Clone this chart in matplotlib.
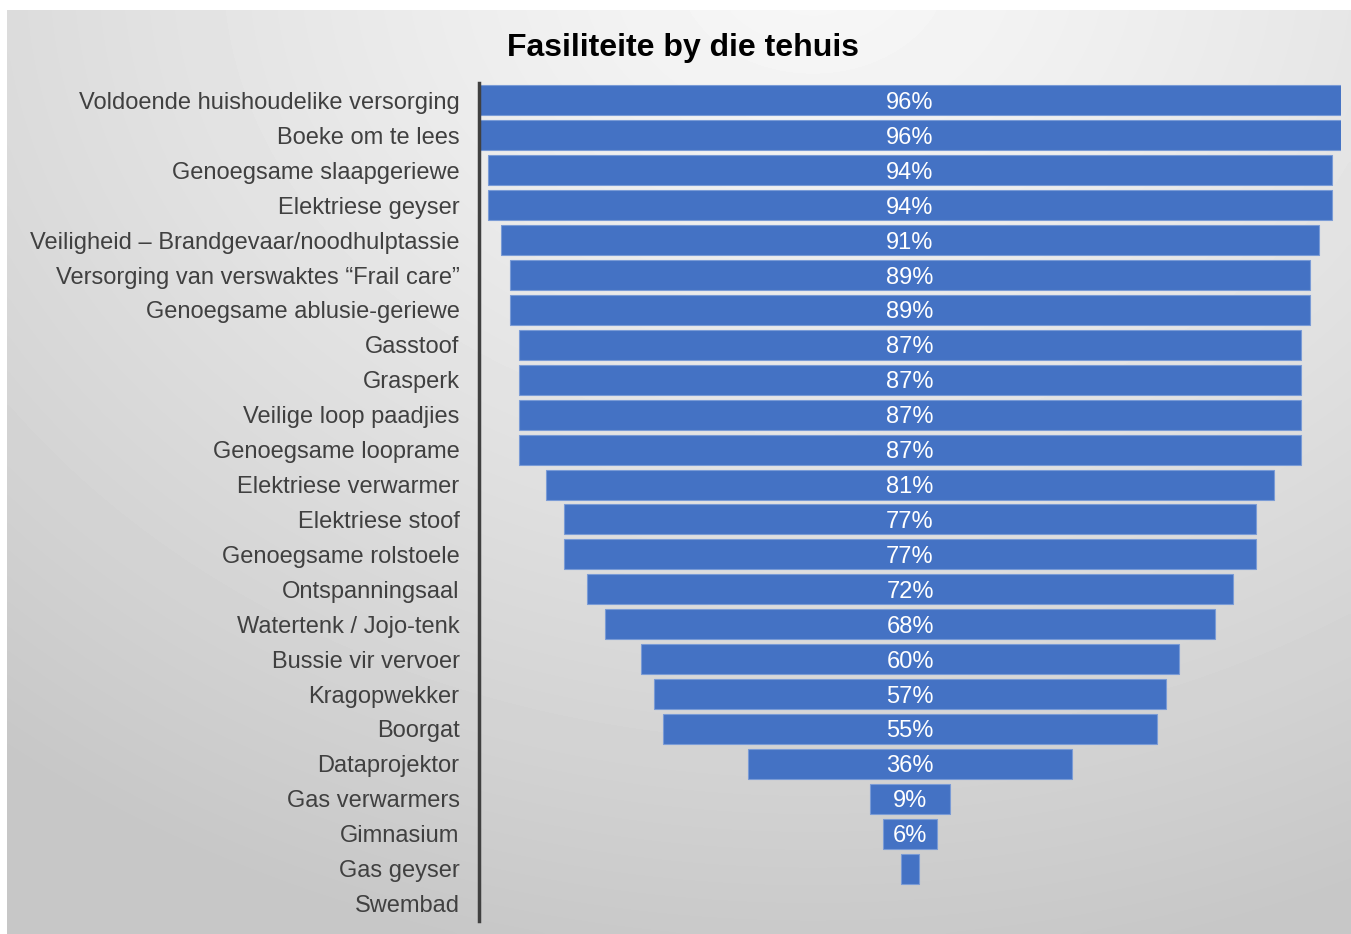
import numpy as np
import matplotlib.pyplot as plt

# Data (top to bottom)
categorieë = [
    'Voldoende huishoudelike versorging', 'Boeke om te lees', 'Genoegsame slaapgeriewe',
    'Elektriese geyser', 'Veiligheid – Brandgevaar/noodhulptassie',
    'Versorging van verswaktes “Frail care”', 'Genoegsame ablusie-geriewe', 'Gasstoof',
    'Grasperk', 'Veilige loop paadjies', 'Genoegsame looprame', 'Elektriese verwarmer',
    'Elektriese stoof', 'Genoegsame rolstoele', 'Ontspanningsaal', 'Watertenk / Jojo-tenk',
    'Bussie vir vervoer', 'Kragopwekker', 'Boorgat', 'Dataprojektor', 'Gas verwarmers',
    'Gimnasium', 'Gas geyser', 'Swembad',
]
persentasies = [96, 96, 94, 94, 91, 89, 89, 87, 87, 87, 87, 81, 77, 77, 72, 68, 60, 57, 55,
                36, 9, 6, 2, 0]
etikette = ['96%', '96%', '94%', '94%', '91%', '89%', '89%', '87%', '87%', '87%', '87%',
            '81%', '77%', '77%', '72%', '68%', '60%', '57%', '55%', '36%', '9%', '6%', '', '']

plt.rcParams['font.family'] = ['Liberation Sans', 'DejaVu Sans']

W, H = 1351, 934
fig = plt.figure(figsize=(W / 100, H / 100), dpi=100)
fig.patch.set_facecolor('white')

# agtergrond met gradient
bg = fig.add_axes([7 / W, 0, 1 - 7 / W, (H - 10) / H])
yy, xx = np.mgrid[0:1:300j, 0:1:400j]
d = np.sqrt(((xx - 0.6) / 0.95) ** 2 + ((yy - 1.05) / 1.1) ** 2)
val = 0.97 - 0.19 * np.clip(d, 0, 1) ** 1.2
bg.imshow(val, cmap='gray', vmin=0, vmax=1, origin='lower', aspect='auto',
          extent=[0, 1, 0, 1], interpolation='bicubic')
bg.axis('off')

ax = fig.add_axes([479 / W, (H - 921) / H, (1341 - 479) / W, (921 - 83) / H])
ax.patch.set_alpha(0)

y = np.arange(len(categorieë))
w = np.array(persentasies, dtype=float)
ax.barh(y, w, left=-w / 2, height=0.86, color='#4472C4',
        edgecolor=['#7a9bd6' if v > 0 else 'none' for v in w], linewidth=0.8)
for yi, lab in zip(y, etikette):
    if lab:
        ax.text(0, yi, lab, ha='center', va='center_baseline', color='white', fontsize=17)

ax.set_xlim(-48, 48)
ax.set_ylim(len(categorieë) - 0.5, -0.5)
ax.set_yticks(y)
ax.set_yticklabels(categorieë, fontsize=17, color='#404040', va='center_baseline')
ax.tick_params(axis='y', length=0, pad=14)
ax.set_xticks([])
for s in ['top', 'right', 'bottom']:
    ax.spines[s].set_visible(False)
ax.spines['left'].set_color('#404040')
ax.spines['left'].set_linewidth(2.5)

fig.text(683 / W, 1 - 48 / H, 'Fasiliteite by die tehuis', ha='center', va='center',
         fontsize=23, fontweight='bold', color='black')

fig.savefig('out.png', dpi=100)
